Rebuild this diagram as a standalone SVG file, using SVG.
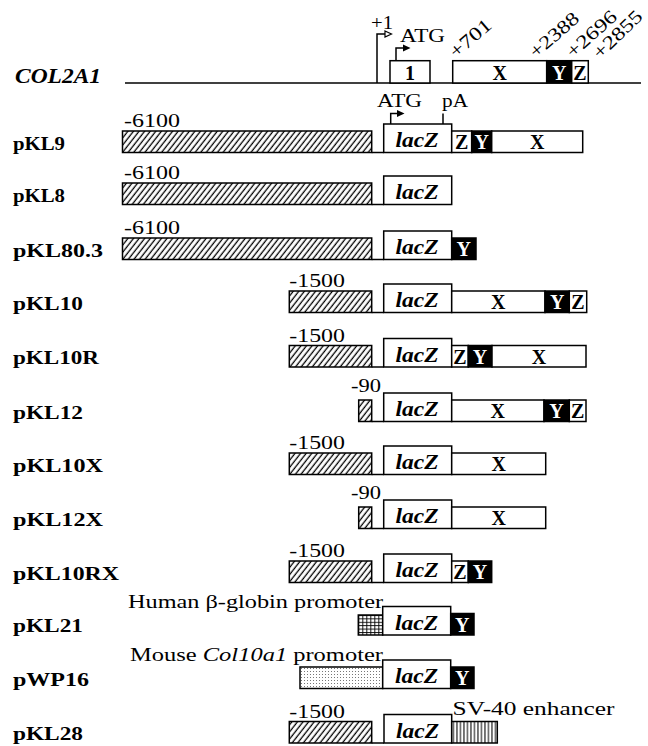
<svg xmlns="http://www.w3.org/2000/svg" width="648" height="746" viewBox="0 0 648 746">
<style>
.b{stroke:#000;stroke-width:1.5}
.w{fill:#fff}
.k{fill:#000}
.ln{stroke:#000;stroke-width:1.5;fill:none}
.lbl{font-family:"Liberation Serif","Times New Roman",serif;font-weight:bold;font-size:18px}
.num{font-family:"Liberation Serif","Times New Roman",serif;font-size:19px}
.lz{font-family:"Liberation Serif","Times New Roman",serif;font-weight:bold;font-style:italic;font-size:21px;text-anchor:middle}
.seg{font-family:"Liberation Serif","Times New Roman",serif;font-weight:bold;font-size:20px;text-anchor:middle}
.wt{fill:#fff}
</style>
<defs>
<pattern id="hatch" patternUnits="userSpaceOnUse" width="4.4" height="10" patternTransform="rotate(38)">
<rect width="4.4" height="10" fill="#fff"/>
<line x1="1.2" y1="0" x2="1.2" y2="10" stroke="#000" stroke-width="1.3"/>
</pattern>
<pattern id="grid" patternUnits="userSpaceOnUse" x="358.3" y="615" width="4" height="3.4">
<rect width="4" height="3.4" fill="#fff"/>
<line x1="0" y1="0.5" x2="4" y2="0.5" stroke="#000" stroke-width="0.9"/>
<line x1="0.5" y1="0" x2="0.5" y2="3.4" stroke="#000" stroke-width="0.9"/>
</pattern>
<pattern id="dots" patternUnits="userSpaceOnUse" x="300" y="667" width="3" height="3">
<rect width="3" height="3" fill="#fff"/>
<rect x="1" y="1" width="1" height="1" fill="#777"/>
</pattern>
<pattern id="vstripe" patternUnits="userSpaceOnUse" x="451.7" y="0" width="3.5" height="10">
<rect width="3.5" height="10" fill="#fff"/>
<line x1="1.75" y1="0" x2="1.75" y2="10" stroke="#000" stroke-width="1"/>
</pattern>
<marker id="openArr" markerWidth="9" markerHeight="9" refX="1" refY="4.5" orient="auto" markerUnits="userSpaceOnUse">
<path d="M1,1.5 L7.5,4.5 L1,7.5 Z" fill="#fff" stroke="#000" stroke-width="1.2"/>
</marker>
<marker id="fillArr" markerWidth="9" markerHeight="9" refX="0.5" refY="4.5" orient="auto" markerUnits="userSpaceOnUse">
<path d="M0,0.8 L8,4.5 L0,8.2 Z" fill="#000"/>
</marker>
</defs>
<rect width="648" height="746" fill="#fff"/>

<g id="connectors">
<line class="ln" x1="125" y1="83" x2="641" y2="83"/>
<path class="ln" d="M377,83 V34 H385" marker-end="url(#openArr)"/>
<path class="ln" d="M396,60.7 V48 H403" marker-end="url(#fillArr)"/>
<path class="ln" d="M390.7,124 V113.5 H397" marker-end="url(#fillArr)"/>
<path class="ln" d="M443,124 V113.5"/>
<line class="ln" x1="371.7" y1="152.5" x2="383.7" y2="152.5"/>
<line class="ln" x1="371.7" y1="204.5" x2="383.7" y2="204.5"/>
<line class="ln" x1="371.7" y1="259.5" x2="383.7" y2="259.5"/>
<line class="ln" x1="371.7" y1="312.5" x2="383.7" y2="312.5"/>
<line class="ln" x1="371.7" y1="367" x2="383.7" y2="367"/>
<line class="ln" x1="371.7" y1="421.5" x2="383.7" y2="421.5"/>
<line class="ln" x1="371.7" y1="474.5" x2="383.7" y2="474.5"/>
<line class="ln" x1="371.7" y1="528.5" x2="383.7" y2="528.5"/>
<line class="ln" x1="371.7" y1="582.5" x2="383.7" y2="582.5"/>
<line class="ln" x1="371.7" y1="743" x2="384" y2="743"/>
</g>

<g id="COL2A1">
<text x="15" y="83" font-family="Liberation Serif, serif" font-weight="bold" font-style="italic" font-size="20" textLength="86" lengthAdjust="spacingAndGlyphs">COL2A1</text>
<text class="num" x="371" y="29" font-size="18" textLength="22" lengthAdjust="spacingAndGlyphs">+1</text>
<text class="num" x="400" y="42" textLength="45" lengthAdjust="spacingAndGlyphs">ATG</text>
<rect class="b w" x="390" y="60.7" width="40" height="22.3"/>
<text class="seg" x="410" y="79.5">1</text>
<rect class="b w" x="452.7" y="60.7" width="94" height="22.3"/>
<text class="seg" x="499.7" y="79.5">X</text>
<rect class="b k" x="546.7" y="60.7" width="25" height="22.3"/>
<text class="seg wt" x="559.2" y="79.5">Y</text>
<rect class="b w" x="571.7" y="60.7" width="16.6" height="22.3"/>
<text class="seg" x="580" y="79.5">Z</text>
<text class="num" font-size="19" transform="translate(456,59) rotate(-41)" textLength="49" lengthAdjust="spacingAndGlyphs">+701</text>
<text class="num" font-size="19" transform="translate(536,59) rotate(-41)" textLength="59" lengthAdjust="spacingAndGlyphs">+2388</text>
<text class="num" font-size="19" transform="translate(573,59) rotate(-42)" textLength="61" lengthAdjust="spacingAndGlyphs">+2696</text>
<text class="num" font-size="19" transform="translate(600,60) rotate(-44)" textLength="61" lengthAdjust="spacingAndGlyphs">+2855</text>
</g>

<g id="pKL9">
<text class="lbl" x="13" y="149.5" textLength="52" lengthAdjust="spacingAndGlyphs">pKL9</text>
<text class="num" x="124" y="126.5" textLength="56" lengthAdjust="spacingAndGlyphs">-6100</text>
<rect class="b" fill="url(#hatch)" x="122.5" y="131" width="249.2" height="21.5"/>
<text class="num" x="377" y="106.5" textLength="45" lengthAdjust="spacingAndGlyphs">ATG</text>
<text class="num" x="442" y="106.5" textLength="26" lengthAdjust="spacingAndGlyphs">pA</text>
<rect class="b w" x="383.7" y="124" width="68" height="28.5"/>
<text class="lz" x="417" y="147" textLength="43" lengthAdjust="spacingAndGlyphs">lacZ</text>
<rect class="b w" x="451.7" y="131" width="20" height="21.5"/>
<text class="seg" x="461.7" y="149">Z</text>
<rect class="b k" x="471.7" y="131" width="20" height="21.5"/>
<text class="seg wt" x="481.7" y="149">Y</text>
<rect class="b w" x="491.7" y="131" width="91" height="21.5"/>
<text class="seg" x="537.2" y="149">X</text>
</g>

<g id="pKL8">
<text class="lbl" x="13" y="201.5" textLength="52" lengthAdjust="spacingAndGlyphs">pKL8</text>
<text class="num" x="124" y="179" textLength="56" lengthAdjust="spacingAndGlyphs">-6100</text>
<rect class="b" fill="url(#hatch)" x="122.5" y="183" width="249.2" height="21.5"/>
<rect class="b w" x="383.7" y="176" width="68" height="28.5"/>
<text class="lz" x="417" y="199" textLength="43" lengthAdjust="spacingAndGlyphs">lacZ</text>
</g>

<g id="pKL80.3">
<text class="lbl" x="13" y="256.5" textLength="90" lengthAdjust="spacingAndGlyphs">pKL80.3</text>
<text class="num" x="124" y="234" textLength="56" lengthAdjust="spacingAndGlyphs">-6100</text>
<rect class="b" fill="url(#hatch)" x="122.5" y="238" width="249.2" height="21.5"/>
<rect class="b w" x="383.7" y="231" width="68" height="28.5"/>
<text class="lz" x="417" y="254" textLength="43" lengthAdjust="spacingAndGlyphs">lacZ</text>
<rect class="b k" x="451.7" y="238" width="24.3" height="21.5"/>
<text class="seg wt" x="463.8" y="256">Y</text>
</g>

<g id="pKL10">
<text class="lbl" x="13" y="309.5" textLength="70" lengthAdjust="spacingAndGlyphs">pKL10</text>
<text class="num" x="289.3" y="287" textLength="55.7" lengthAdjust="spacingAndGlyphs">-1500</text>
<rect class="b" fill="url(#hatch)" x="289.3" y="291" width="82.4" height="21.5"/>
<rect class="b w" x="383.7" y="284" width="68" height="28.5"/>
<text class="lz" x="417" y="307" textLength="43" lengthAdjust="spacingAndGlyphs">lacZ</text>
<rect class="b w" x="451.7" y="291" width="93.3" height="21.5"/>
<text class="seg" x="498.3" y="309">X</text>
<rect class="b k" x="545" y="291" width="24.3" height="21.5"/>
<text class="seg wt" x="557.2" y="309">Y</text>
<rect class="b w" x="569.3" y="291" width="17.4" height="21.5"/>
<text class="seg" x="578" y="309">Z</text>
</g>

<g id="pKL10R">
<text class="lbl" x="13" y="364" textLength="86" lengthAdjust="spacingAndGlyphs">pKL10R</text>
<text class="num" x="289.3" y="341.5" textLength="55.7" lengthAdjust="spacingAndGlyphs">-1500</text>
<rect class="b" fill="url(#hatch)" x="289.3" y="345.5" width="82.4" height="21.5"/>
<rect class="b w" x="383.7" y="338.5" width="68" height="28.5"/>
<text class="lz" x="417" y="361.5" textLength="43" lengthAdjust="spacingAndGlyphs">lacZ</text>
<rect class="b w" x="451.7" y="345.5" width="16.6" height="21.5"/>
<text class="seg" x="460" y="363.5">Z</text>
<rect class="b k" x="468.3" y="345.5" width="23.7" height="21.5"/>
<text class="seg wt" x="480.1" y="363.5">Y</text>
<rect class="b w" x="492" y="345.5" width="94" height="21.5"/>
<text class="seg" x="539" y="363.5">X</text>
</g>

<g id="pKL12">
<text class="lbl" x="13" y="418.5" textLength="70" lengthAdjust="spacingAndGlyphs">pKL12</text>
<text class="num" x="351" y="392" textLength="30" lengthAdjust="spacingAndGlyphs">-90</text>
<rect class="b" fill="url(#hatch)" x="358.7" y="400" width="13" height="21.5"/>
<rect class="b w" x="383.7" y="393" width="68" height="28.5"/>
<text class="lz" x="417" y="416" textLength="43" lengthAdjust="spacingAndGlyphs">lacZ</text>
<rect class="b w" x="451.7" y="400" width="92.3" height="21.5"/>
<text class="seg" x="497.8" y="418">X</text>
<rect class="b k" x="544" y="400" width="25.3" height="21.5"/>
<text class="seg wt" x="556.6" y="418">Y</text>
<rect class="b w" x="569.3" y="400" width="16.7" height="21.5"/>
<text class="seg" x="577.6" y="418">Z</text>
</g>

<g id="pKL10X">
<text class="lbl" x="13" y="471.5" textLength="90" lengthAdjust="spacingAndGlyphs">pKL10X</text>
<text class="num" x="289.3" y="449" textLength="55.7" lengthAdjust="spacingAndGlyphs">-1500</text>
<rect class="b" fill="url(#hatch)" x="289.3" y="453" width="82.4" height="21.5"/>
<rect class="b w" x="383.7" y="446" width="68" height="28.5"/>
<text class="lz" x="417" y="469" textLength="43" lengthAdjust="spacingAndGlyphs">lacZ</text>
<rect class="b w" x="451.7" y="453" width="94" height="21.5"/>
<text class="seg" x="498.7" y="471">X</text>
</g>

<g id="pKL12X">
<text class="lbl" x="13" y="525.5" textLength="90" lengthAdjust="spacingAndGlyphs">pKL12X</text>
<text class="num" x="351" y="499" textLength="30" lengthAdjust="spacingAndGlyphs">-90</text>
<rect class="b" fill="url(#hatch)" x="358.7" y="507" width="13" height="21.5"/>
<rect class="b w" x="383.7" y="500" width="68" height="28.5"/>
<text class="lz" x="417" y="523" textLength="43" lengthAdjust="spacingAndGlyphs">lacZ</text>
<rect class="b w" x="451.7" y="507" width="94" height="21.5"/>
<text class="seg" x="498.7" y="525">X</text>
</g>

<g id="pKL10RX">
<text class="lbl" x="13" y="579.5" textLength="106" lengthAdjust="spacingAndGlyphs">pKL10RX</text>
<text class="num" x="289.3" y="557" textLength="55.7" lengthAdjust="spacingAndGlyphs">-1500</text>
<rect class="b" fill="url(#hatch)" x="289.3" y="561" width="82.4" height="21.5"/>
<rect class="b w" x="383.7" y="554" width="68" height="28.5"/>
<text class="lz" x="417" y="577" textLength="43" lengthAdjust="spacingAndGlyphs">lacZ</text>
<rect class="b w" x="451.7" y="561" width="16.6" height="21.5"/>
<text class="seg" x="460" y="579">Z</text>
<rect class="b k" x="468.3" y="561" width="23.4" height="21.5"/>
<text class="seg wt" x="480" y="579">Y</text>
</g>

<g id="pKL21">
<text class="lbl" x="13" y="632" textLength="70" lengthAdjust="spacingAndGlyphs">pKL21</text>
<text class="num" x="128" y="607.5" textLength="255" lengthAdjust="spacingAndGlyphs">Human β-globin promoter</text>
<rect class="b" fill="url(#grid)" x="358.3" y="615" width="24.4" height="20"/>
<rect class="b w" x="382.7" y="606.5" width="68" height="28.5"/>
<text class="lz" x="416.5" y="629.5" textLength="43" lengthAdjust="spacingAndGlyphs">lacZ</text>
<rect class="b k" x="450.7" y="613.5" width="23.3" height="21.5"/>
<text class="seg wt" x="462.3" y="631.5">Y</text>
</g>

<g id="pWP16">
<text class="lbl" x="13" y="685.5" textLength="76" lengthAdjust="spacingAndGlyphs">pWP16</text>
<text class="num" x="130" y="661" textLength="253" lengthAdjust="spacingAndGlyphs">Mouse <tspan font-style="italic">Col10a1</tspan> promoter</text>
<rect class="b" fill="url(#dots)" x="300" y="667" width="82.7" height="21.5"/>
<rect class="b w" x="382.7" y="660" width="68" height="28.5"/>
<text class="lz" x="416.5" y="683" textLength="43" lengthAdjust="spacingAndGlyphs">lacZ</text>
<rect class="b k" x="450.7" y="667" width="23.3" height="21.5"/>
<text class="seg wt" x="462.3" y="685">Y</text>
</g>

<g id="pKL28">
<text class="lbl" x="13" y="740" textLength="70" lengthAdjust="spacingAndGlyphs">pKL28</text>
<text class="num" x="289.3" y="718" textLength="55.7" lengthAdjust="spacingAndGlyphs">-1500</text>
<rect class="b" fill="url(#hatch)" x="289.3" y="721.5" width="82.4" height="21.5"/>
<rect class="b w" x="384" y="714.5" width="67.7" height="28.5"/>
<text class="lz" x="417.5" y="737.5" textLength="43" lengthAdjust="spacingAndGlyphs">lacZ</text>
<rect class="b" fill="url(#vstripe)" x="451.7" y="721.5" width="45.6" height="21.5"/>
<text class="num" x="452.5" y="715" textLength="162" lengthAdjust="spacingAndGlyphs">SV-40 enhancer</text>
</g>
</svg>
